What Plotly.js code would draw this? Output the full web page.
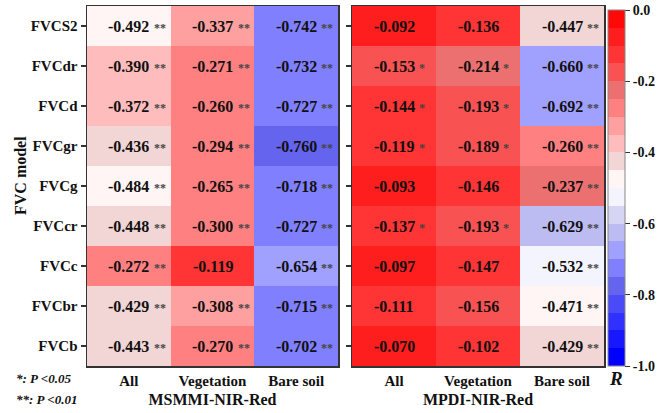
<!DOCTYPE html>
<html>
<head>
<meta charset="utf-8">
<script src="https://cdn.plot.ly/plotly-3.0.1.min.js"></script>
<style>
  html, body { margin: 0; padding: 0; background: #fff; }
  #chart { width: 670px; height: 413px; }
</style>
</head>
<body>
<div id="chart"></div>
<script>
// FVC models (top to bottom) and the three surface classes
const models = ['FVCS2', 'FVCdr', 'FVCd', 'FVCgr', 'FVCg', 'FVCcr', 'FVCc', 'FVCbr', 'FVCb'];
const classes = ['All', 'Vegetation', 'Bare soil'];

// Correlation R with MSMMI-NIR-Red
const msmmiAll  = [-0.492, -0.390, -0.372, -0.436, -0.484, -0.448, -0.272, -0.429, -0.443];
const msmmiVeg  = [-0.337, -0.271, -0.260, -0.294, -0.265, -0.300, -0.119, -0.308, -0.270];
const msmmiBare = [-0.742, -0.732, -0.727, -0.760, -0.718, -0.727, -0.654, -0.715, -0.702];
const msmmiAllSig  = ['**', '**', '**', '**', '**', '**', '**', '**', '**'];
const msmmiVegSig  = ['**', '**', '**', '**', '**', '**', '', '**', '**'];
const msmmiBareSig = ['**', '**', '**', '**', '**', '**', '**', '**', '**'];

// Correlation R with MPDI-NIR-Red
const mpdiAll  = [-0.092, -0.153, -0.144, -0.119, -0.093, -0.137, -0.097, -0.111, -0.070];
const mpdiVeg  = [-0.136, -0.214, -0.193, -0.189, -0.146, -0.193, -0.147, -0.156, -0.102];
const mpdiBare = [-0.447, -0.660, -0.692, -0.260, -0.237, -0.629, -0.532, -0.471, -0.429];
const mpdiAllSig  = ['', '*', '*', '*', '', '*', '', '', ''];
const mpdiVegSig  = ['', '*', '*', '*', '', '*', '', '', ''];
const mpdiBareSig = ['**', '**', '**', '**', '**', '**', '**', '**', '**'];

// Colorbar ticks
const cbTickVals = [0, -0.2, -0.4, -0.6, -0.8, -1.0];
const cbTickText = ['0.0', '-0.2', '-0.4', '-0.6', '-0.8', '-1.0'];

// 20 discrete colour steps, from R = -1.0 (blue) up to R = 0.0 (red)
const binColors = [
  '#0000ff', '#1818ff', '#3030ff', '#4a4af6', '#6464ee', '#8080ff', '#a0a0ff', '#bcbcf2', '#d6d6f4', '#f4f4ff',
  '#fff5f5', '#f2d6d6', '#ffbcbc', '#ffa0a0', '#ff8080', '#ec7070', '#f85252', '#ff3434', '#ff1e1e', '#ff0808'
];

const W = 670, H = 413;
const px = v => v / W;
const py = v => 1 - v / H;
const serif = '"Liberation Serif", "Times New Roman", serif';

const colorscale = [];
binColors.forEach((c, i) => {
  colorscale.push([i / binColors.length, c]);
  colorscale.push([(i + 1) / binColors.length, c]);
});

const toGrid = (a, b, c) => models.map((_, i) => [a[i], b[i], c[i]]);
const gridLeft = toGrid(msmmiAll, msmmiVeg, msmmiBare);
const gridRight = toGrid(mpdiAll, mpdiVeg, mpdiBare);
const sigLeft = toGrid(msmmiAllSig, msmmiVegSig, msmmiBareSig);
const sigRight = toGrid(mpdiAllSig, mpdiVegSig, mpdiBareSig);

const traces = [
  {
    type: 'heatmap', x: classes, y: models, z: gridLeft,
    xaxis: 'x', yaxis: 'y',
    colorscale: colorscale, zmin: -1, zmax: 0, showscale: false,
    hoverinfo: 'skip'
  },
  {
    type: 'heatmap', x: classes, y: models, z: gridRight,
    xaxis: 'x2', yaxis: 'y2',
    colorscale: colorscale, zmin: -1, zmax: 0, showscale: true,
    hoverinfo: 'skip',
    colorbar: {
      x: px(608), xanchor: 'left', xpad: 0,
      y: py(188), yanchor: 'middle', ypad: 0,
      thickness: 17, thicknessmode: 'pixels',
      len: 356, lenmode: 'pixels',
      outlinewidth: 1, outlinecolor: '#888',
      ticks: 'outside', ticklen: 5, tickwidth: 1, tickcolor: '#333',
      tickvals: cbTickVals, ticktext: cbTickText,
      tickfont: { family: serif, size: 14, color: '#111', weight: 'bold' }
    }
  }
];

const annotations = [];
function addCellLabels(grid, sig, xref, yref) {
  models.forEach((m, i) => {
    classes.forEach((c, j) => {
      annotations.push({
        x: c, y: m, xref: xref, yref: yref,
        text: grid[i][j].toFixed(3), showarrow: false,
        xanchor: 'center', yanchor: 'middle',
        font: { family: serif, size: 16, color: '#111', weight: 'bold' }
      });
      if (sig[i][j]) {
        annotations.push({
          x: c, y: m, xref: xref, yref: yref,
          text: sig[i][j], showarrow: false,
          xanchor: 'left', yanchor: 'middle', xshift: 23, yshift: -2,
          font: { family: serif, size: 12, color: '#444', weight: 'bold' }
        });
      }
    });
  });
}
addCellLabels(gridLeft, sigLeft, 'x', 'y');
addCellLabels(gridRight, sigRight, 'x2', 'y2');

// Axis title, colorbar title and significance notes
annotations.push(
  { xref: 'paper', yref: 'paper', x: px(20), y: py(176), text: 'FVC model', textangle: -90,
    showarrow: false, xanchor: 'center', yanchor: 'middle',
    font: { family: serif, size: 16, color: '#111', weight: 'bold' } },
  { xref: 'paper', yref: 'paper', x: px(616), y: py(378), text: 'R', showarrow: false,
    xanchor: 'center', yanchor: 'middle',
    font: { family: serif, size: 19, color: '#111', weight: 'bold', style: 'italic' } },
  { xref: 'paper', yref: 'paper', x: px(14), y: py(378), text: '*: P &lt;0.05', showarrow: false,
    xanchor: 'left', yanchor: 'middle',
    font: { family: serif, size: 13, color: '#111', weight: 'bold', style: 'italic' } },
  { xref: 'paper', yref: 'paper', x: px(14), y: py(399), text: '**: P &lt;0.01', showarrow: false,
    xanchor: 'left', yanchor: 'middle',
    font: { family: serif, size: 13, color: '#111', weight: 'bold', style: 'italic' } }
);

const frame = { showline: true, mirror: true, linecolor: '#333', linewidth: 1.5, showgrid: false, zeroline: false };
const yDomain = [py(366), py(6)];

const layout = {
  width: W, height: H,
  margin: { l: 0, r: 0, t: 0, b: 0 },
  paper_bgcolor: '#fff', plot_bgcolor: '#fff',
  showlegend: false,
  xaxis: Object.assign({}, frame, {
    domain: [px(87), px(338)], anchor: 'y', type: 'category',
    ticks: '', tickfont: { family: serif, size: 15, color: '#111', weight: 'bold' },
    title: { text: 'MSMMI-NIR-Red', standoff: 6, font: { family: serif, size: 16, color: '#111', weight: 'bold' } }
  }),
  yaxis: Object.assign({}, frame, {
    domain: yDomain, anchor: 'x', type: 'category', autorange: 'reversed',
    ticks: 'outside', ticklen: 5, tickcolor: '#333', tickwidth: 1.2,
    tickfont: { family: serif, size: 15, color: '#111', weight: 'bold' }
  }),
  xaxis2: Object.assign({}, frame, {
    domain: [px(352), px(604)], anchor: 'y2', type: 'category',
    ticks: '', tickfont: { family: serif, size: 15, color: '#111', weight: 'bold' },
    title: { text: 'MPDI-NIR-Red', standoff: 6, font: { family: serif, size: 16, color: '#111', weight: 'bold' } }
  }),
  yaxis2: Object.assign({}, frame, {
    domain: yDomain, anchor: 'x2', type: 'category', autorange: 'reversed',
    ticks: 'outside', ticklen: 5, tickcolor: '#333', tickwidth: 1.2, showticklabels: false
  }),
  annotations: annotations
};

Plotly.newPlot('chart', traces, layout, { displayModeBar: false, staticPlot: true });
</script>
</body>
</html>
